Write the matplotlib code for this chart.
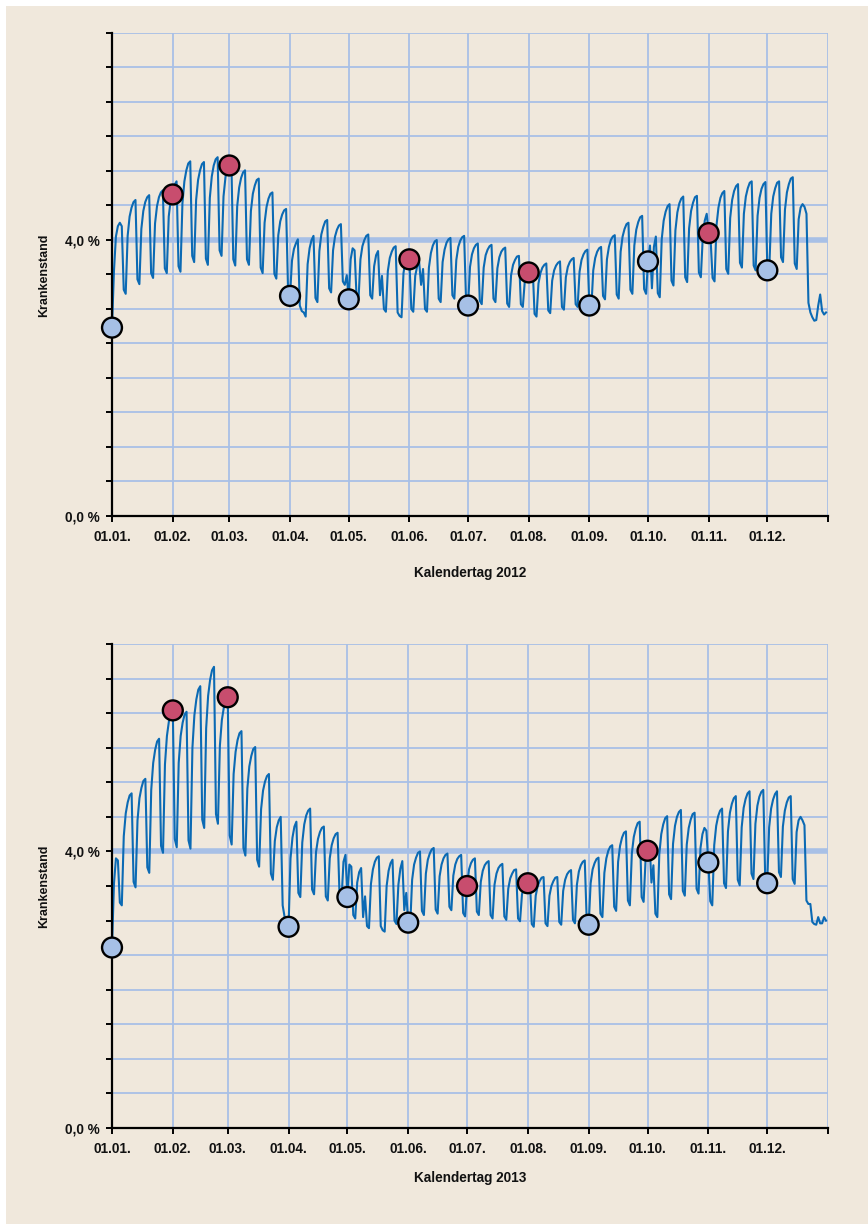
import numpy as np
import matplotlib
matplotlib.use("Agg")
import matplotlib.pyplot as plt
from matplotlib.patches import Rectangle

# ---------------- data ----------------
month_labels = ["01.01.", "01.02.", "01.03.", "01.04.", "01.05.", "01.06.",
                "01.07.", "01.08.", "01.09.", "01.10.", "01.11.", "01.12."]

# daily sick-leave rate (%) 2012, Jan 1 (Sunday) .. Dec 31, one row per week (Sun..Sat)
sick_2012 = [
    2.73, 3.55, 4.05, 4.20, 4.25, 4.20, 3.28,
    3.22, 4.06, 4.34, 4.47, 4.55, 4.58, 3.43,
    3.36, 4.16, 4.42, 4.55, 4.62, 4.65, 3.52,
    3.45, 4.24, 4.49, 4.62, 4.69, 4.72, 3.59,
    3.52, 4.34, 4.58, 4.66, 4.80, 4.85, 3.62,
    3.54, 4.53, 4.85, 5.01, 5.11, 5.14, 3.77,
    3.68, 4.58, 4.87, 5.01, 5.10, 5.13, 3.73,
    3.64, 4.61, 4.92, 5.08, 5.17, 5.20, 3.85,
    3.77, 4.63, 4.91, 5.05, 5.08, 5.16, 3.72,
    3.63, 4.49, 4.76, 4.90, 4.98, 5.01, 3.72,
    3.64, 4.42, 4.67, 4.79, 4.87, 4.89, 3.60,
    3.52, 4.25, 4.48, 4.60, 4.67, 4.69, 3.51,
    3.44, 4.07, 4.27, 4.37, 4.43, 4.45, 3.27,
    3.19, 3.70, 3.87, 3.95, 4.01, 3.05, 2.97,
    2.95, 2.89, 3.65, 3.88, 4.00, 4.06, 3.16,
    3.10, 3.84, 4.08, 4.19, 4.27, 4.29, 3.30,
    3.24, 3.85, 4.05, 4.15, 4.21, 4.23, 3.40,
    3.35, 3.49, 3.14, 3.72, 3.88, 3.85, 3.18,
    3.13, 3.72, 3.91, 4.00, 4.06, 4.08, 3.20,
    3.15, 3.62, 3.78, 3.84, 3.20, 3.48, 3.00,
    2.96, 3.55, 3.74, 3.83, 3.89, 3.91, 2.95,
    2.90, 2.88, 3.52, 3.70, 3.80, 3.72, 3.00,
    2.96, 3.48, 3.62, 3.68, 3.35, 3.58, 3.00,
    2.96, 3.60, 3.81, 3.92, 3.98, 4.00, 3.15,
    3.10, 3.68, 3.86, 3.96, 4.01, 4.03, 3.20,
    3.15, 3.71, 3.90, 3.99, 4.04, 4.06, 3.11,
    3.05, 3.61, 3.79, 3.88, 3.93, 3.95, 3.12,
    3.07, 3.60, 3.78, 3.86, 3.91, 3.93, 3.15,
    3.10, 3.59, 3.75, 3.83, 3.87, 3.89, 3.08,
    3.03, 3.49, 3.64, 3.71, 3.76, 3.77, 3.07,
    3.03, 3.40, 3.48, 3.53, 3.60, 3.62, 2.93,
    2.89, 3.37, 3.52, 3.60, 3.64, 3.66, 2.98,
    2.94, 3.41, 3.56, 3.63, 3.67, 3.69, 3.03,
    2.99, 3.46, 3.61, 3.68, 3.72, 3.74, 3.07,
    3.03, 3.54, 3.71, 3.79, 3.84, 3.86, 3.05,
    3.00, 3.56, 3.74, 3.83, 3.88, 3.90, 3.19,
    3.14, 3.72, 3.90, 4.00, 4.05, 4.07, 3.21,
    3.15, 3.83, 4.05, 4.16, 4.23, 4.25, 3.28,
    3.22, 3.92, 4.15, 4.26, 4.33, 4.35, 3.29,
    3.22, 3.69, 3.92, 3.30, 3.90, 4.05, 3.23,
    3.17, 4.01, 4.28, 4.41, 4.49, 4.52, 3.41,
    3.34, 4.14, 4.40, 4.53, 4.60, 4.63, 3.46,
    3.39, 4.17, 4.42, 4.54, 4.62, 4.64, 3.53,
    3.46, 4.05, 4.28, 4.38, 4.10, 4.00, 3.45,
    3.40, 4.21, 4.47, 4.61, 4.68, 4.71, 3.58,
    3.51, 4.32, 4.58, 4.71, 4.78, 4.81, 3.67,
    3.60, 4.38, 4.63, 4.75, 4.83, 4.85, 3.63,
    3.56, 4.35, 4.61, 4.74, 4.81, 4.84, 3.56,
    3.60, 4.38, 4.63, 4.75, 4.83, 4.85, 3.75,
    3.68, 4.44, 4.69, 4.81, 4.89, 4.91, 3.66,
    3.58, 4.30, 4.47, 4.52, 4.48, 4.38, 3.09,
    2.95, 2.88, 2.83, 2.84, 3.05, 3.21, 2.97,
    2.92, 2.95,
]

# daily sick-leave rate (%) 2013, Jan 1 (Tuesday) .. Dec 31
sick_2013 = [
                2.61, 3.53, 3.90, 3.87, 3.26,
    3.22, 4.22, 4.55, 4.71, 4.81, 4.84, 3.56,
    3.48, 4.45, 4.77, 4.92, 5.02, 5.05, 3.77,
    3.69, 4.89, 5.28, 5.47, 5.59, 5.63, 4.08,
    3.98, 5.26, 5.67, 5.88, 6.00, 6.04, 4.18,
    4.06, 5.28, 5.67, 5.86, 5.98, 6.02, 4.16,
    4.04, 5.50, 5.97, 6.20, 6.34, 6.39, 4.46,
    4.34, 5.78, 6.25, 6.48, 6.62, 6.67, 4.54,
    4.40, 5.53, 5.90, 6.08, 6.19, 6.23, 4.23,
    4.10, 5.12, 5.44, 5.61, 5.71, 5.74, 4.05,
    3.94, 4.91, 5.23, 5.38, 5.48, 5.51, 3.88,
    3.78, 4.61, 4.88, 5.01, 5.09, 5.12, 3.68,
    3.59, 4.15, 4.35, 4.45, 4.50, 3.22, 3.05,
    2.95, 2.91, 3.90, 4.20, 4.36, 4.43, 3.40,
    3.34, 4.13, 4.39, 4.52, 4.59, 4.62, 3.45,
    3.38, 3.99, 4.18, 4.28, 4.34, 4.36, 3.35,
    3.29, 3.90, 4.09, 4.19, 4.25, 4.27, 3.36,
    3.30, 3.85, 3.95, 3.34, 3.81, 3.78, 3.08,
    3.03, 3.55, 3.70, 3.76, 3.05, 3.35, 2.92,
    2.89, 3.53, 3.74, 3.85, 3.91, 3.93, 2.92,
    2.86, 2.84, 3.50, 3.72, 3.83, 3.88, 3.00,
    2.95, 3.52, 3.75, 3.86, 3.15, 3.40, 2.97,
    2.92, 3.59, 3.81, 3.91, 3.98, 4.00, 3.14,
    3.08, 3.68, 3.88, 3.97, 4.03, 4.05, 3.16,
    3.10, 3.64, 3.81, 3.90, 3.95, 3.97, 3.20,
    3.15, 3.65, 3.81, 3.89, 3.93, 3.95, 3.11,
    3.06, 3.50, 3.74, 3.83, 3.88, 3.90, 3.13,
    3.08, 3.56, 3.72, 3.80, 3.84, 3.86, 3.08,
    3.03, 3.52, 3.68, 3.76, 3.80, 3.82, 3.06,
    3.01, 3.46, 3.61, 3.68, 3.73, 3.74, 3.03,
    2.99, 3.38, 3.48, 3.52, 3.54, 3.60, 2.95,
    2.91, 3.36, 3.50, 3.57, 3.62, 3.63, 2.96,
    2.92, 3.36, 3.50, 3.57, 3.62, 3.63, 2.98,
    2.94, 3.43, 3.59, 3.67, 3.71, 3.73, 3.01,
    2.96, 3.52, 3.71, 3.80, 3.85, 3.87, 3.00,
    2.94, 3.54, 3.74, 3.83, 3.89, 3.91, 3.10,
    3.05, 3.69, 3.90, 4.01, 4.07, 4.09, 3.20,
    3.14, 3.85, 4.08, 4.20, 4.27, 4.29, 3.29,
    3.22, 3.97, 4.21, 4.33, 4.41, 4.43, 3.34,
    3.27, 3.88, 4.01, 4.15, 3.55, 3.80, 3.10,
    3.05, 3.96, 4.25, 4.39, 4.48, 4.51, 3.38,
    3.31, 4.11, 4.37, 4.50, 4.57, 4.60, 3.43,
    3.36, 4.10, 4.34, 4.46, 4.54, 4.56, 3.46,
    3.39, 4.05, 4.25, 4.34, 4.30, 3.84, 3.28,
    3.22, 4.09, 4.37, 4.51, 4.59, 4.62, 3.54,
    3.47, 4.29, 4.56, 4.69, 4.77, 4.80, 3.59,
    3.51, 4.35, 4.63, 4.76, 4.84, 4.87, 3.68,
    3.60, 4.40, 4.66, 4.79, 4.86, 4.89, 3.60,
    3.54, 4.35, 4.62, 4.75, 4.83, 4.87, 3.70,
    3.63, 4.36, 4.59, 4.71, 4.78, 4.80, 3.60,
    3.53, 4.28, 4.45, 4.50, 4.45, 4.38, 3.29,
    3.24, 3.24, 2.98, 2.95, 2.94, 3.05, 2.96,
    2.96, 3.05, 3.00,
]

# colour of the month-start markers: r = red, b = light blue
dot_colors_2012 = ["b", "r", "r", "b", "b", "r", "b", "r", "b", "b", "r", "b"]
dot_colors_2013 = ["b", "r", "r", "b", "b", "b", "r", "r", "b", "r", "b", "b"]

years = [2012, 2013]
series = [sick_2012, sick_2013]
dot_colors = [dot_colors_2012, dot_colors_2013]

# ---------------- style ----------------
BG = "#f0e8dc"
GRID = "#a8c0e6"
LINE = "#0b6ab4"
RED = "#c84d6e"
LBLUE = "#a6c0e6"
FONT = "Liberation Sans"

fig = plt.figure(figsize=(8.68, 12.24), dpi=100)
fig.patch.set_facecolor("white")
fig.add_artist(Rectangle((6 / 868, 0), 1 - 6 / 868, 1 - 6 / 1224,
                         transform=fig.transFigure, facecolor=BG,
                         edgecolor="none", zorder=-10))

axes_boxes = [
    [112 / 868, (1224 - 516) / 1224, 716 / 868, 483 / 1224],
    [112 / 868, (1224 - 1128) / 1224, 716 / 868, 484 / 1224],
]
xlabel_y = [(1224 - 573) / 1224, (1224 - 1178) / 1224]
ylabel_y = [(1224 - 275) / 1224, (1224 - 886) / 1224]

for i in range(2):
    year = years[i]
    vals = np.array(series[i], dtype=float)
    ndays = len(vals)
    months = np.arange(f"{year}-01", f"{year + 1}-01", dtype="datetime64[M]")
    starts = (months.astype("datetime64[D]") - np.datetime64(f"{year}-01-01")).astype(int)

    ax = fig.add_axes(axes_boxes[i])
    ax.set_facecolor("none")
    ax.set_xlim(0, ndays)
    ax.set_ylim(0, 7)

    # grid
    xt = list(starts) + [ndays]
    ax.set_xticks(xt)
    ax.set_xticklabels(month_labels + [""])
    yt = np.arange(0, 7.01, 0.5)
    ax.set_yticks(yt)
    ax.set_yticklabels(["0,0 %" if abs(v) < 1e-9 else ("4,0 %" if abs(v - 4) < 1e-9 else "") for v in yt])
    ax.grid(True, color=GRID, lw=1.3, zorder=0)
    ax.set_axisbelow(True)
    ax.axhline(4.0, color=GRID, lw=4.0, zorder=1)

    # data
    ax.plot(np.arange(ndays), vals, color=LINE, lw=1.5, zorder=3, solid_joinstyle="round")
    cols = [RED if c == "r" else LBLUE for c in dot_colors[i]]
    ax.scatter(starts, vals[starts], s=205, c=cols, edgecolors="black",
               linewidths=1.7, zorder=5, clip_on=False)

    for s in ["top", "right"]:
        ax.spines[s].set_visible(False)
    for s in ["left", "bottom"]:
        ax.spines[s].set_color("black")
        ax.spines[s].set_linewidth(1.6)
        ax.spines[s].set_zorder(4)
    ax.tick_params(axis="both", direction="out", length=4, width=1.4, color="black")
    ax.tick_params(axis="x", pad=6)
    ax.tick_params(axis="y", pad=5)
    for lab in ax.get_xticklabels() + ax.get_yticklabels():
        lab.set_fontfamily(FONT)
        lab.set_fontweight("bold")
        lab.set_fontsize(9.8)
        lab.set_color("#111111")

    fig.text(470 / 868, xlabel_y[i], f"Kalendertag {year}", ha="center", va="center",
             fontfamily=FONT, fontweight="bold", fontsize=9.8, color="#111111")
    fig.text(44 / 868, ylabel_y[i], "Krankenstand", ha="center", va="center",
             rotation=90, fontfamily=FONT, fontweight="bold", fontsize=9.0, color="#111111")

fig.savefig("out.png", dpi=100, facecolor=fig.get_facecolor())
